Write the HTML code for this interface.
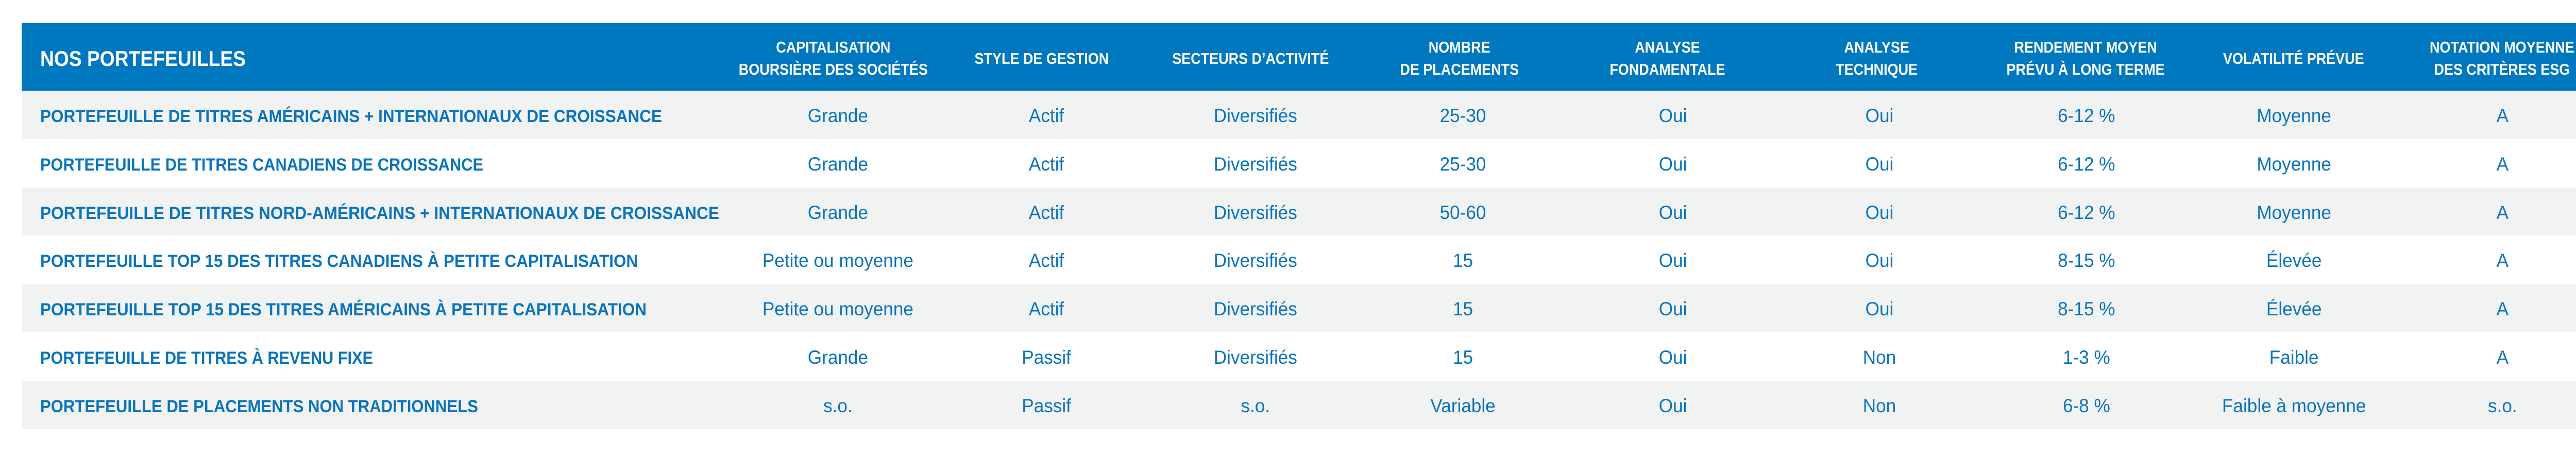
<!DOCTYPE html>
<html><head><meta charset="utf-8"><style>
html,body{margin:0;padding:0;background:#fff;width:5105px;height:883px;overflow:hidden;}
svg{display:block;}
.h{font-family:"Liberation Sans",sans-serif;font-weight:bold;fill:#fff;font-size:31px;text-anchor:middle;}
.l{font-family:"Liberation Sans",sans-serif;font-weight:bold;fill:#0a74bc;font-size:34px;}
.d{font-family:"Liberation Sans",sans-serif;fill:#0a74bc;font-size:37px;text-anchor:middle;}
</style></head><body>
<svg width="5105" height="883" viewBox="0 0 5105 883" xmlns="http://www.w3.org/2000/svg">
<rect x="42" y="45" width="5015" height="131" fill="#0078bf"/>
<rect x="42" y="176" width="5015" height="94" fill="#f1f2f2"/>
<rect x="42" y="364" width="5015" height="93" fill="#f1f2f2"/>
<rect x="42" y="551" width="5015" height="94" fill="#f1f2f2"/>
<rect x="42" y="739" width="5015" height="94" fill="#f1f2f2"/>

<text x="78" y="128" font-family="Liberation Sans, sans-serif" font-weight="bold" font-size="42" fill="#fff" textLength="399" lengthAdjust="spacingAndGlyphs">NOS PORTEFEUILLES</text>
<g transform="scale(0.87,1)">
<text class="h" x="1859" y="102">CAPITALISATION</text>
<text class="h" x="1859" y="145">BOURSIÈRE DES SOCIÉTÉS</text>
<text class="h" x="2324" y="124">STYLE DE GESTION</text>
<text class="h" x="2790" y="124">SECTEURS D’ACTIVITÉ</text>
<text class="h" x="3256" y="102">NOMBRE</text>
<text class="h" x="3256" y="145">DE PLACEMENTS</text>
<text class="h" x="3720" y="102">ANALYSE</text>
<text class="h" x="3720" y="145">FONDAMENTALE</text>
<text class="h" x="4187" y="102">ANALYSE</text>
<text class="h" x="4187" y="145">TECHNIQUE</text>
<text class="h" x="4653" y="102">RENDEMENT MOYEN</text>
<text class="h" x="4653" y="145">PRÉVU À LONG TERME</text>
<text class="h" x="5117" y="124">VOLATILITÉ PRÉVUE</text>
<text class="h" x="5582" y="102">NOTATION MOYENNE</text>
<text class="h" x="5582" y="145">DES CRITÈRES ESG</text>
</g>

<text class="l" x="78" y="237" textLength="1207" lengthAdjust="spacingAndGlyphs">PORTEFEUILLE DE TITRES AMÉRICAINS + INTERNATIONAUX DE CROISSANCE</text>
<text class="l" x="78" y="331" textLength="860" lengthAdjust="spacingAndGlyphs">PORTEFEUILLE DE TITRES CANADIENS DE CROISSANCE</text>
<text class="l" x="78" y="425" textLength="1318" lengthAdjust="spacingAndGlyphs">PORTEFEUILLE DE TITRES NORD-AMÉRICAINS + INTERNATIONAUX DE CROISSANCE</text>
<text class="l" x="78" y="518" textLength="1160" lengthAdjust="spacingAndGlyphs">PORTEFEUILLE TOP 15 DES TITRES CANADIENS À PETITE CAPITALISATION</text>
<text class="l" x="78" y="612" textLength="1177" lengthAdjust="spacingAndGlyphs">PORTEFEUILLE TOP 15 DES TITRES AMÉRICAINS À PETITE CAPITALISATION</text>
<text class="l" x="78" y="706" textLength="646" lengthAdjust="spacingAndGlyphs">PORTEFEUILLE DE TITRES À REVENU FIXE</text>
<text class="l" x="78" y="800" textLength="850" lengthAdjust="spacingAndGlyphs">PORTEFEUILLE DE PLACEMENTS NON TRADITIONNELS</text>

<g transform="scale(0.95,1)">
<text class="d" x="1712" y="237">Grande</text><text class="d" x="2138" y="237">Actif</text><text class="d" x="2565" y="237">Diversifiés</text><text class="d" x="2989" y="237">25-30</text><text class="d" x="3418" y="237">Oui</text><text class="d" x="3840" y="237">Oui</text><text class="d" x="4263" y="237">6-12 %</text><text class="d" x="4687" y="237">Moyenne</text><text class="d" x="5113" y="237">A</text>
<text class="d" x="1712" y="331">Grande</text><text class="d" x="2138" y="331">Actif</text><text class="d" x="2565" y="331">Diversifiés</text><text class="d" x="2989" y="331">25-30</text><text class="d" x="3418" y="331">Oui</text><text class="d" x="3840" y="331">Oui</text><text class="d" x="4263" y="331">6-12 %</text><text class="d" x="4687" y="331">Moyenne</text><text class="d" x="5113" y="331">A</text>
<text class="d" x="1712" y="425">Grande</text><text class="d" x="2138" y="425">Actif</text><text class="d" x="2565" y="425">Diversifiés</text><text class="d" x="2989" y="425">50-60</text><text class="d" x="3418" y="425">Oui</text><text class="d" x="3840" y="425">Oui</text><text class="d" x="4263" y="425">6-12 %</text><text class="d" x="4687" y="425">Moyenne</text><text class="d" x="5113" y="425">A</text>
<text class="d" x="1712" y="518">Petite ou moyenne</text><text class="d" x="2138" y="518">Actif</text><text class="d" x="2565" y="518">Diversifiés</text><text class="d" x="2989" y="518">15</text><text class="d" x="3418" y="518">Oui</text><text class="d" x="3840" y="518">Oui</text><text class="d" x="4263" y="518">8-15 %</text><text class="d" x="4687" y="518">Élevée</text><text class="d" x="5113" y="518">A</text>
<text class="d" x="1712" y="612">Petite ou moyenne</text><text class="d" x="2138" y="612">Actif</text><text class="d" x="2565" y="612">Diversifiés</text><text class="d" x="2989" y="612">15</text><text class="d" x="3418" y="612">Oui</text><text class="d" x="3840" y="612">Oui</text><text class="d" x="4263" y="612">8-15 %</text><text class="d" x="4687" y="612">Élevée</text><text class="d" x="5113" y="612">A</text>
<text class="d" x="1712" y="706">Grande</text><text class="d" x="2138" y="706">Passif</text><text class="d" x="2565" y="706">Diversifiés</text><text class="d" x="2989" y="706">15</text><text class="d" x="3418" y="706">Oui</text><text class="d" x="3840" y="706">Non</text><text class="d" x="4263" y="706">1-3 %</text><text class="d" x="4687" y="706">Faible</text><text class="d" x="5113" y="706">A</text>
<text class="d" x="1712" y="800">s.o.</text><text class="d" x="2138" y="800">Passif</text><text class="d" x="2565" y="800">s.o.</text><text class="d" x="2989" y="800">Variable</text><text class="d" x="3418" y="800">Oui</text><text class="d" x="3840" y="800">Non</text><text class="d" x="4263" y="800">6-8 %</text><text class="d" x="4687" y="800">Faible à moyenne</text><text class="d" x="5113" y="800">s.o.</text>
</g>
</svg>
</body></html>
